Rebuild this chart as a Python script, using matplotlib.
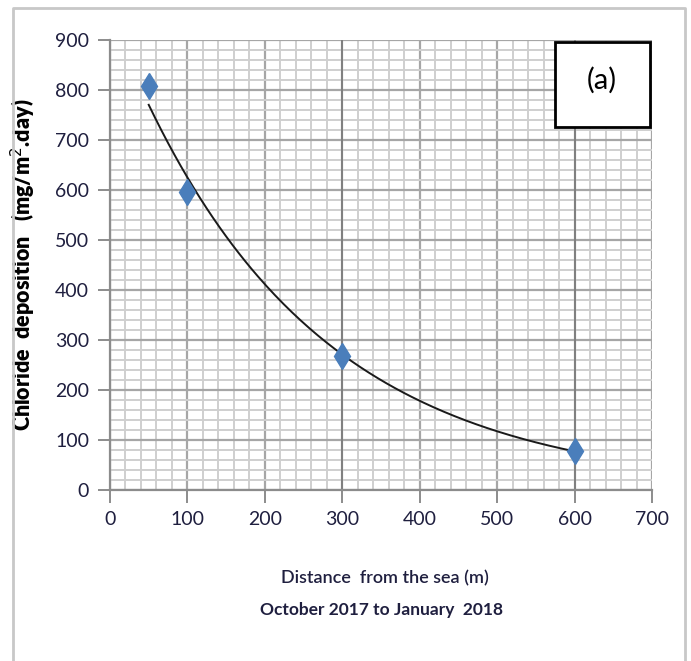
import numpy as np
import matplotlib.pyplot as plt
from matplotlib.patches import Rectangle
from matplotlib.ticker import MultipleLocator

# data
distance = [50, 100, 300, 600]
chloride = [808, 597, 268, 78]
x_ticks = [0, 100, 200, 300, 400, 500, 600, 700]
y_ticks = [0, 100, 200, 300, 400, 500, 600, 700, 800, 900]

plt.rcParams['font.family'] = ['Lato', 'DejaVu Sans']

fig = plt.figure(figsize=(6.91, 6.61), dpi=100)
ax = fig.add_axes([110 / 691, 1 - 490 / 661, 542 / 691, 450 / 661])

# exponential trendline (Excel style), fitted in log space
b, lna = np.polyfit(distance, np.log(chloride), 1)
xs = np.linspace(min(distance), max(distance), 200)
ax.plot(xs, np.exp(lna) * np.exp(b * xs), color='#1a1a1a', lw=1.4, zorder=3)

ax.plot(distance, chloride, linestyle='none', marker='d', markersize=13,
        color='#4a7ebb', markeredgecolor='#4a7ebb', zorder=4)

ax.set_xlim(0, 700)
ax.set_ylim(0, 900)
ax.set_xticks(x_ticks)
ax.set_yticks(y_ticks)
ax.xaxis.set_minor_locator(MultipleLocator(20))
ax.yaxis.set_minor_locator(MultipleLocator(20))
ax.grid(which='major', color='#a6a6a6', lw=1.6, zorder=0)
ax.grid(which='minor', color='#cfcfcf', lw=1.4, zorder=0)
ax.set_axisbelow(True)
# darker verticals at the sampling distances
for xv in [300, 600]:
    ax.axvline(xv, color='#7f7f7f', lw=1.4, zorder=1)

for s in ['top', 'right']:
    ax.spines[s].set_visible(False)
for s in ['left', 'bottom']:
    ax.spines[s].set_color('#8c8c8c')
    ax.spines[s].set_linewidth(1.6)
ax.tick_params(which='major', direction='out', length=9, width=1.4,
               color='#8c8c8c', labelsize=14, labelcolor='#1f1f3f', pad=6)
ax.tick_params(which='minor', length=0)

ax.set_ylabel('Chloride  deposition   (mg/m$^{2}$.day)', fontsize=15.5,
              fontweight='heavy', labelpad=12)

fig.text(0.5 * (110 + 652) / 691 + 0.005, 1 - 578 / 661, 'Distance  from the sea (m)',
         ha='center', va='center', fontsize=13, color='#1f1f3f', fontweight='semibold')
fig.text(0.5 * (110 + 652) / 691, 1 - 610 / 661, 'October 2017 to January  2018',
         ha='center', va='center', fontsize=12.5, color='#1f1f3f', fontweight='bold')

# label box
ax.add_patch(Rectangle((555 / 691, 1 - 127 / 661), 95 / 691, 85 / 661,
                       transform=fig.transFigure, facecolor='white',
                       edgecolor='black', lw=2, zorder=5))
fig.text(602 / 691, 1 - 80 / 661, '(a)', ha='center', va='center',
         fontsize=21, zorder=6)

# outer border
fig.add_artist(plt.Line2D([13 / 691, 13 / 691, 685 / 691, 685 / 691],
                          [0, 1 - 8 / 661, 1 - 8 / 661, 0],
                          transform=fig.transFigure, color='#c8c8c8', lw=2))

fig.savefig('out.png', dpi=100)
